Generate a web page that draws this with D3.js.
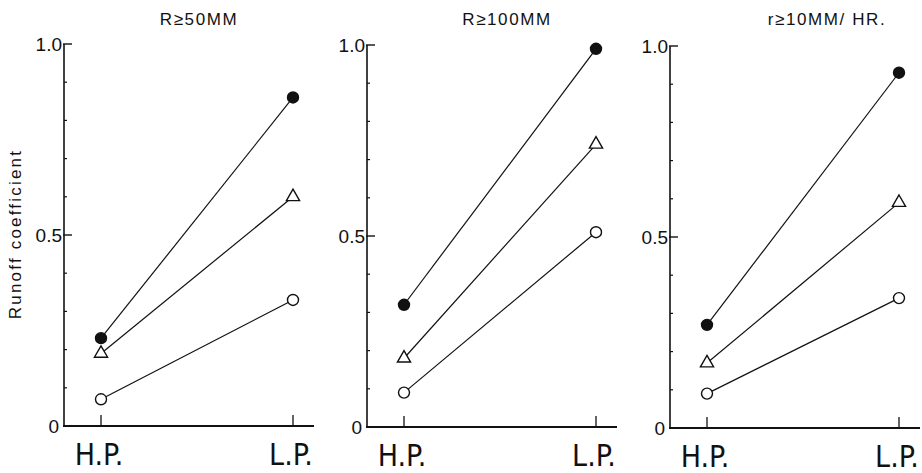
<!DOCTYPE html>
<html><head><meta charset="utf-8">
<script src="https://cdn.jsdelivr.net/npm/d3@7"></script>
<style>
body{margin:0;background:#fff;}
svg{display:block;}
text{fill:#111;}
</style></head>
<body>
<svg id="c" width="922" height="473"></svg>
<script>
// ---- data ----
const categories = ["H.P.", "L.P."];
const panelTitles = ["R\u226550MM", "R\u2265100MM", "r\u226510MM/ HR."];
const filledValues   = [[0.23, 0.86], [0.32, 0.99], [0.27, 0.93]];
const triangleValues = [[0.19, 0.60], [0.18, 0.74], [0.17, 0.59]];
const openValues     = [[0.07, 0.33], [0.09, 0.51], [0.09, 0.34]];
const yTickValues = [0, 0.5, 1.0];
const yTickLabels = ["0", "0.5", "1.0"];
const yMinorTicks = [0.1, 0.2, 0.3, 0.4, 0.6, 0.7, 0.8, 0.9];
const yAxisTitle = "Runoff coefficient";

// ---- layout ----
const svg = d3.select("#c");
const panelLeft = [64, 367, 670];
const panelBase = [426, 427, 428];
const panelW = 250;
const plotH = 382;
const titleOffset = [135, 140, 157];
const ink = "#111";

const series = [
  {vals: filledValues, type: "filled"},
  {vals: triangleValues, type: "triangle"},
  {vals: openValues, type: "open"}
];

panelTitles.forEach((title, p) => {
  const x0 = panelLeft[p], yb = panelBase[p];
  const g = svg.append("g");
  const x = d3.scalePoint().domain(categories).range([x0 + 37, x0 + 229]);
  const y = d3.scaleLinear().domain([0, 1]).range([yb, yb - plotH]);

  // y axis line
  g.append("line").attr("x1", x0).attr("x2", x0).attr("y1", y(1)).attr("y2", y(0))
    .attr("stroke", ink).attr("stroke-width", 1.6);
  // major ticks
  g.selectAll(".maj").data(yTickValues.filter(v => v > 0)).enter().append("line")
    .attr("x1", x0 - 1).attr("x2", x0 + 8).attr("y1", d => y(d)).attr("y2", d => y(d))
    .attr("stroke", ink).attr("stroke-width", 1.4);
  // minor ticks
  g.selectAll(".min").data(yMinorTicks).enter().append("line")
    .attr("x1", x0).attr("x2", x0 + 3).attr("y1", d => y(d)).attr("y2", d => y(d))
    .attr("stroke", ink).attr("stroke-width", 1.2);
  // tick labels
  g.selectAll(".lab").data(yTickValues).enter().append("text")
    .attr("x", (d, i) => d === 0 ? x0 - 5 : x0 - 2)
    .attr("y", d => y(d) + 7)
    .attr("text-anchor", "end")
    .attr("font-family", "Liberation Sans, Arial, sans-serif")
    .attr("font-size", 19)
    .text((d, i) => yTickLabels[i]);

  // x axis
  g.append("line").attr("x1", x0 - 1).attr("x2", Math.min(x0 + panelW, 922)).attr("y1", yb).attr("y2", yb)
    .attr("stroke", ink).attr("stroke-width", 2);
  g.selectAll(".xt").data(categories).enter().append("line")
    .attr("x1", d => x(d)).attr("x2", d => x(d)).attr("y1", yb).attr("y2", yb - 11)
    .attr("stroke", ink).attr("stroke-width", 1.3);
  g.selectAll(".xl").data(categories).enter().append("text")
    .attr("x", d => x(d) - 2).attr("y", yb + 39)
    .attr("text-anchor", "middle")
    .attr("font-family", "Liberation Sans Narrow, DejaVu Sans Condensed, Liberation Sans, sans-serif")
    .attr("font-size", 30)
    .text(d => d);

  // title
  g.append("text").attr("x", x0 + titleOffset[p]).attr("y", 25)
    .attr("text-anchor", "middle")
    .attr("font-family", "Liberation Sans, Arial, sans-serif")
    .attr("font-size", 17).attr("letter-spacing", 1.6)
    .text(title);

  // series
  series.forEach(s => {
    const vals = s.vals[p];
    const pts = categories.map((c, i) => [x(c), y(vals[i])]);
    g.append("path").attr("d", d3.line()(pts)).attr("fill", "none")
      .attr("stroke", ink).attr("stroke-width", 1.2);
    pts.forEach(pt => {
      if (s.type === "triangle") {
        g.append("path")
          .attr("d", d3.symbol().type(d3.symbolTriangle).size(75)())
          .attr("transform", `translate(${pt[0]},${pt[1]})`)
          .attr("fill", "#fff").attr("stroke", ink).attr("stroke-width", 1.4);
      } else {
        g.append("circle").attr("cx", pt[0]).attr("cy", pt[1]).attr("r", 5.5)
          .attr("fill", s.type === "filled" ? ink : "#fff")
          .attr("stroke", ink).attr("stroke-width", 1.4);
      }
    });
  });
});

// y axis title
svg.append("text")
  .attr("transform", "translate(21,234) rotate(-90)")
  .attr("text-anchor", "middle")
  .attr("font-family", "Liberation Sans, Arial, sans-serif")
  .attr("font-size", 17).attr("letter-spacing", 2.2)
  .text(yAxisTitle);
</script>
</body></html>
